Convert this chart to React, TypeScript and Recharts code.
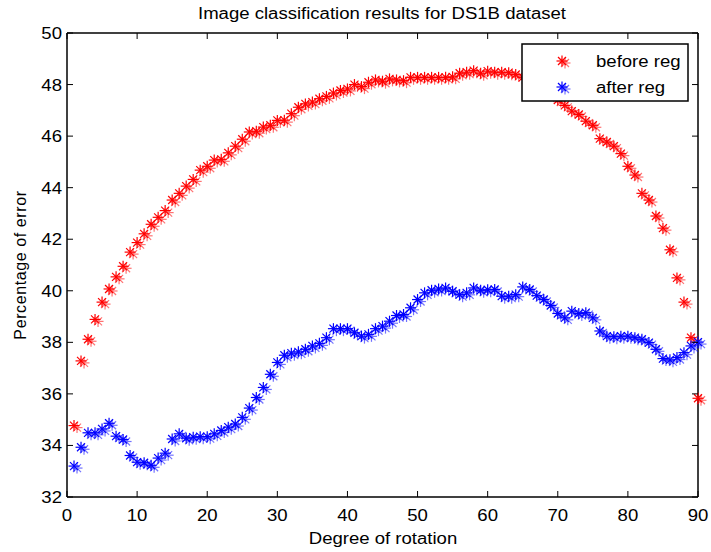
import { Legend, Scatter, ScatterChart, XAxis, YAxis } from "recharts";

const degrees = [
  1, 2, 3, 4, 5, 6, 7, 8, 9, 10, 11, 12, 13, 14, 15, 16, 17, 18, 19, 20, 21, 22, 23, 24, 25, 26, 27,
  28, 29, 30, 31, 32, 33, 34, 35, 36, 37, 38, 39, 40, 41, 42, 43, 44, 45, 46, 47, 48, 49, 50, 51, 52,
  53, 54, 55, 56, 57, 58, 59, 60, 61, 62, 63, 64, 65, 66, 67, 68, 69, 70, 71, 72, 73, 74, 75, 76, 77,
  78, 79, 80, 81, 82, 83, 84, 85, 86, 87, 88, 89, 90,
];

const beforeReg = [
  34.77, 37.28, 38.12, 38.89, 39.56, 40.07, 40.54, 40.95, 41.5, 41.87, 42.21, 42.58, 42.85, 43.11,
  43.52, 43.78, 44.06, 44.32, 44.68, 44.83, 45.07, 45.1, 45.35, 45.61, 45.88, 46.16, 46.19, 46.35,
  46.42, 46.61, 46.62, 46.87, 47.12, 47.25, 47.32, 47.45, 47.54, 47.67, 47.77, 47.83, 48.0, 47.92,
  48.09, 48.18, 48.13, 48.22, 48.18, 48.15, 48.28, 48.28, 48.28, 48.28, 48.28, 48.28, 48.3, 48.44,
  48.48, 48.54, 48.44, 48.52, 48.48, 48.48, 48.46, 48.39, 48.28, 48.1, 47.95, 47.8, 47.6, 47.4,
  47.19, 46.97, 46.84, 46.58, 46.42, 45.9, 45.77, 45.61, 45.32, 44.83, 44.49, 43.78, 43.52, 42.9,
  42.43, 41.59, 40.5, 39.56, 38.18, 35.83,
];

const afterReg = [
  33.2, 33.93, 34.49, 34.49, 34.64, 34.86, 34.36, 34.23, 33.61, 33.35, 33.33, 33.23, 33.51, 33.7,
  34.25, 34.45, 34.28, 34.32, 34.34, 34.34, 34.45, 34.58, 34.71, 34.83, 35.09, 35.45, 35.86, 36.25,
  36.76, 37.22, 37.5, 37.58, 37.63, 37.73, 37.86, 37.96, 38.18, 38.53, 38.53, 38.53, 38.37, 38.24,
  38.31, 38.53, 38.63, 38.82, 39.04, 39.08, 39.34, 39.66, 39.92, 40.02, 40.07, 40.11, 39.98, 39.85,
  39.92, 40.11, 40.02, 40.04, 40.05, 39.79, 39.79, 39.85, 40.15, 40.05, 39.81, 39.66, 39.43, 39.12,
  38.95, 39.21, 39.12, 39.15, 38.95, 38.44, 38.24, 38.22, 38.24, 38.24, 38.18, 38.12, 37.99, 37.73,
  37.37, 37.32, 37.41, 37.6, 37.86, 38.01,
];

const xTicks = [0, 10, 20, 30, 40, 50, 60, 70, 80, 90];
const yTicks = [32, 34, 36, 38, 40, 42, 44, 46, 48, 50];

const seriesNames = ["before reg", "after reg"];
const RED = "#ff0000";
const BLUE = "#0000ff";
const FONT = '"Liberation Sans", Arial, sans-serif';
const STRETCH = 1.16;
const TICK = 6;

const beforeData = degrees.map((deg, i) => ({ deg, err: beforeReg[i] }));
const afterData = degrees.map((deg, i) => ({ deg, err: afterReg[i] }));

function Asterisk({ cx, cy, color }: { cx: number; cy: number; color: string }) {
  const star = (x: number, y: number, opacity: number) => (
    <g stroke={color} strokeWidth={1.2} opacity={opacity}>
      <line x1={x} y1={y - 5.5} x2={x} y2={y + 5.5} />
      <line x1={x - 5.5} y1={y} x2={x + 5.5} y2={y} />
      <line x1={x - 4} y1={y - 4} x2={x + 4} y2={y + 4} />
      <line x1={x - 4} y1={y + 4} x2={x + 4} y2={y - 4} />
    </g>
  );
  return (
    <g>
      {star(cx + 3, cy + 2, 0.55)}
      {star(cx, cy, 1)}
    </g>
  );
}

const shapeFor = (color: string) => (props: any) => (
  <Asterisk cx={props.cx} cy={props.cy} color={color} />
);

const noShape = () => <g />;

// ticks point inward, like the MATLAB box axes
const BottomTick = ({ x, y, payload }: any) => (
  <g>
    <line x1={x} y1={y - 24} x2={x} y2={y - 24 - TICK} stroke="#000" />
    <g transform={`translate(${x},${y}) scale(${STRETCH},1)`}>
      <text textAnchor="middle" fontSize={16} fontFamily={FONT} fill="#000">
        {payload.value}
      </text>
    </g>
  </g>
);

const LeftTick = ({ x, y, payload }: any) => (
  <g>
    <line x1={x + 5} y1={y} x2={x + 5 + TICK} y2={y} stroke="#000" />
    <g transform={`translate(${x},${y + 6}) scale(${STRETCH},1)`}>
      <text textAnchor="end" fontSize={16} fontFamily={FONT} fill="#000">
        {payload.value}
      </text>
    </g>
  </g>
);

const TopTick = ({ x, y }: any) => <line x1={x} y1={y} x2={x} y2={y + TICK} stroke="#000" />;

const RightTick = ({ x, y }: any) => <line x1={x} y1={y} x2={x - TICK} y2={y} stroke="#000" />;

const LegendBox = () => (
  <svg width={168} height={59} style={{ display: "block" }}>
    <rect x={1} y={1} width={166} height={57} fill="#fff" stroke="#000" strokeWidth={1.5} />
    {seriesNames.map((name, i) => (
      <g key={name}>
        <Asterisk cx={41} cy={18 + i * 26} color={i === 0 ? RED : BLUE} />
        <g transform={`translate(75,${24 + i * 26}) scale(${STRETCH},1)`}>
          <text fontSize={16} fontFamily={FONT} fill="#000">
            {name}
          </text>
        </g>
      </g>
    ))}
  </svg>
);

const axisLine = { stroke: "#000", strokeWidth: 1.5 };

export default function App() {
  return (
    <div
      style={{
        position: "absolute",
        left: 0,
        top: 0,
        width: 711,
        height: 552,
        background: "#fff",
      }}
    >
      <ScatterChart width={711} height={552} margin={{ top: 32, right: 12, bottom: 0, left: 0 }}>
        <XAxis
          dataKey="deg"
          type="number"
          domain={[0, 90]}
          ticks={xTicks}
          height={55}
          tickSize={0}
          tickMargin={24}
          tick={<BottomTick />}
          axisLine={axisLine}
          tickLine={false}
          interval={0}
        />
        <XAxis
          xAxisId="top"
          dataKey="deg"
          orientation="top"
          type="number"
          domain={[0, 90]}
          ticks={xTicks}
          height={1}
          tickSize={0}
          tickMargin={0}
          tick={<TopTick />}
          axisLine={axisLine}
          tickLine={false}
          interval={0}
        />
        <YAxis
          dataKey="err"
          type="number"
          domain={[32, 50]}
          ticks={yTicks}
          width={67}
          tickSize={0}
          tickMargin={5}
          tick={<LeftTick />}
          axisLine={axisLine}
          tickLine={false}
          interval={0}
        />
        <YAxis
          yAxisId="right"
          dataKey="err"
          orientation="right"
          type="number"
          domain={[32, 50]}
          ticks={yTicks}
          width={1}
          tickSize={0}
          tickMargin={0}
          tick={<RightTick />}
          axisLine={axisLine}
          tickLine={false}
          interval={0}
        />
        <Scatter
          name={seriesNames[0]}
          data={beforeData}
          shape={shapeFor(RED)}
          isAnimationActive={false}
        />
        <Scatter
          name={seriesNames[1]}
          data={afterData}
          shape={shapeFor(BLUE)}
          isAnimationActive={false}
        />
        <Scatter
          xAxisId="top"
          yAxisId="right"
          data={afterData}
          shape={noShape}
          legendType="none"
          isAnimationActive={false}
        />
        <Legend
          layout="horizontal"
          verticalAlign="middle"
          align="center"
          content={<LegendBox />}
          wrapperStyle={{ left: 521, top: 43, width: 168, height: 59, bottom: "auto" }}
        />
      </ScatterChart>
      <svg
        width={711}
        height={552}
        style={{ position: "absolute", left: 0, top: 0, pointerEvents: "none" }}
      >
        <g transform={`translate(382,19) scale(${STRETCH},1)`}>
          <text textAnchor="middle" fontSize={16} fontFamily={FONT} fill="#000">
            Image classification results for DS1B dataset
          </text>
        </g>
        <g transform={`translate(383,544) scale(${STRETCH},1)`}>
          <text textAnchor="middle" fontSize={16} fontFamily={FONT} fill="#000">
            Degree of rotation
          </text>
        </g>
        <text
          transform="translate(25.5,265) rotate(-90)"
          textAnchor="middle"
          fontSize={16}
          fontFamily={FONT}
          letterSpacing={0.6}
          fill="#000"
        >
          Percentage of error
        </text>
      </svg>
    </div>
  );
}
